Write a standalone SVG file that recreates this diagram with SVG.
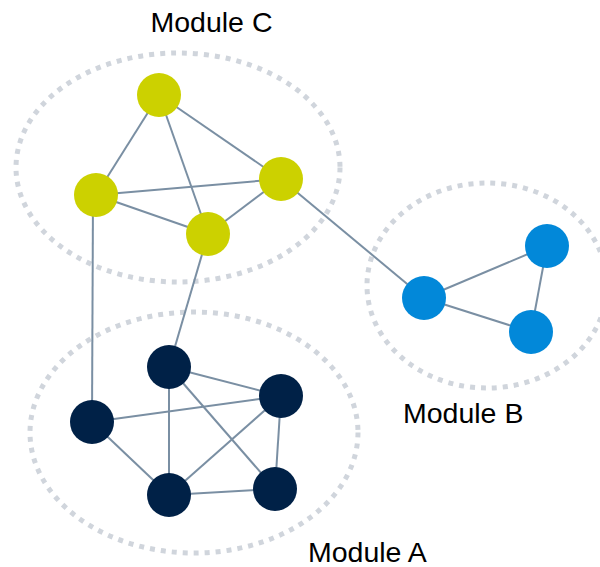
<svg xmlns="http://www.w3.org/2000/svg" width="600" height="567" viewBox="0 0 600 567">
<style>
.mod{fill:none;stroke:#d0d5dc;stroke-width:5;stroke-dasharray:5 6}
.e line{stroke:#7a8fa3;stroke-width:2}
.c{fill:#ccd100}
.b{fill:#0288d9}
.a{fill:#002147}
text{font-family:"Liberation Sans",Arial,sans-serif;font-size:28.5px;fill:#000}
</style>
<rect width="600" height="567" fill="#fff"/>
<g id="modules">
<ellipse class="mod" cx="178" cy="167.5" rx="162" ry="114.5"/>
<ellipse class="mod" cx="487" cy="285.5" rx="120" ry="102.5"/>
<ellipse class="mod" cx="194" cy="432.5" rx="164" ry="120.5"/>
</g>
<g id="connectors" class="e">
<line x1="159" y1="95" x2="96" y2="195"/>
<line x1="159" y1="95" x2="281" y2="179"/>
<line x1="159" y1="95" x2="208" y2="234"/>
<line x1="96" y1="195" x2="281" y2="179"/>
<line x1="96" y1="195" x2="208" y2="234"/>
<line x1="208" y1="234" x2="281" y2="179"/>
<line x1="281" y1="179" x2="424" y2="298"/>
<line x1="93" y1="195" x2="92" y2="422"/>
<line x1="208" y1="234" x2="169" y2="367"/>
<line x1="424" y1="298" x2="547" y2="246"/>
<line x1="424" y1="298" x2="531" y2="332"/>
<line x1="547" y1="246" x2="531" y2="332"/>
<line x1="169" y1="367" x2="281" y2="396"/>
<line x1="169" y1="367" x2="169" y2="495"/>
<line x1="169" y1="367" x2="275" y2="489"/>
<line x1="92" y1="422" x2="281" y2="396"/>
<line x1="92" y1="422" x2="169" y2="495"/>
<line x1="169" y1="495" x2="281" y2="396"/>
<line x1="169" y1="495" x2="275" y2="489"/>
<line x1="281" y1="396" x2="275" y2="489"/>
</g>
<g id="c1"><circle class="c" cx="159" cy="95" r="22"/></g>
<g id="c2"><circle class="c" cx="96" cy="195" r="22"/></g>
<g id="c3"><circle class="c" cx="281" cy="179" r="22"/></g>
<g id="c4"><circle class="c" cx="208" cy="234" r="22"/></g>
<g id="b1"><circle class="b" cx="424" cy="298" r="22"/></g>
<g id="b2"><circle class="b" cx="547" cy="246" r="22"/></g>
<g id="b3"><circle class="b" cx="531" cy="332" r="22"/></g>
<g id="a1"><circle class="a" cx="169" cy="367" r="22"/></g>
<g id="a2"><circle class="a" cx="281" cy="396" r="22"/></g>
<g id="a3"><circle class="a" cx="92" cy="422" r="22"/></g>
<g id="a4"><circle class="a" cx="169" cy="495" r="22"/></g>
<g id="a5"><circle class="a" cx="275" cy="489" r="22"/></g>
<g id="labels">
<text x="150.5" y="32">Module C</text>
<text x="403" y="423">Module B</text>
<text x="308" y="562">Module A</text>
</g>
</svg>
